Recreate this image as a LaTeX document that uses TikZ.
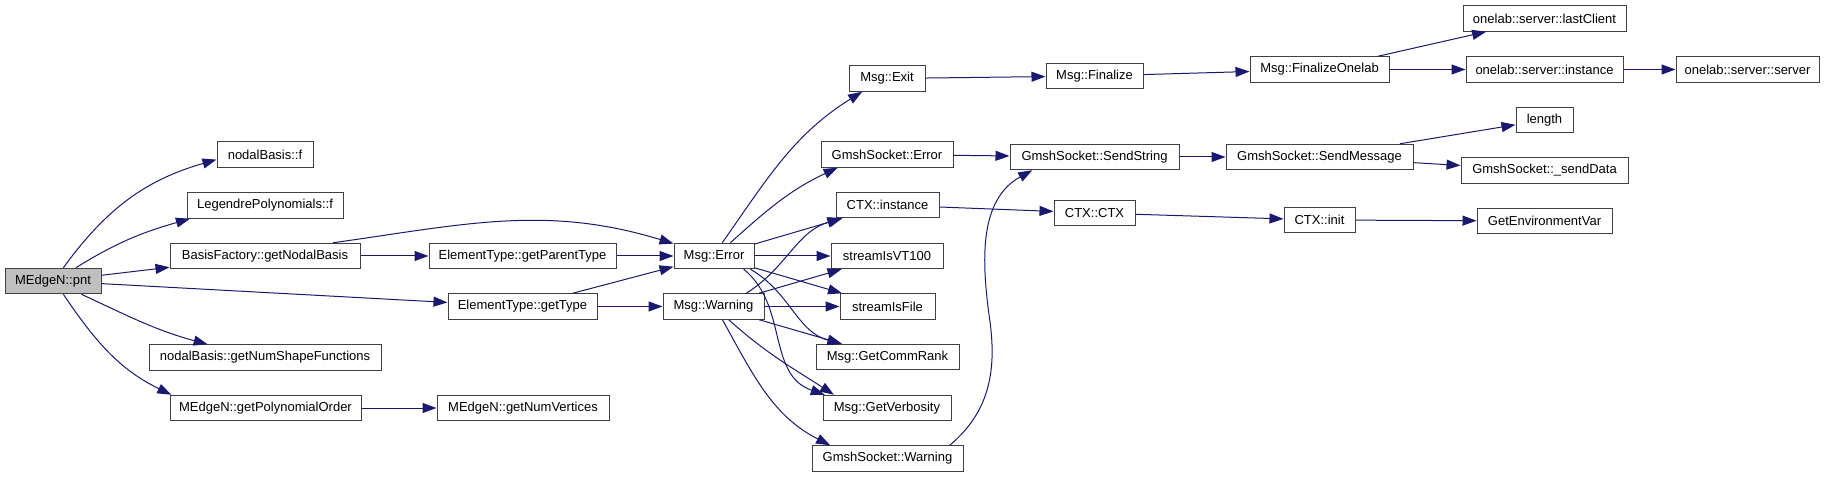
\documentclass[tikz,border=0pt]{standalone}
\usepackage{fontspec}
\setmainfont{Liberation Sans}
\usepackage{tikz}
\usetikzlibrary{arrows.meta}
\definecolor{callblue}{RGB}{25,25,112}

\begin{document}
\begin{tikzpicture}[x=0.75pt, y=0.75pt,
  fn/.style={draw=black!75, line width=0.75pt, fill=white, inner sep=1pt,
    minimum height=19.1pt, font=\fontsize{9.75}{11}\selectfont},
  call/.style={draw=callblue, line width=0.75pt,
    -{Triangle[length=10.5pt, width=7.5pt, fill=callblue]}}]

  \useasboundingbox (0,0) rectangle (1825,-477);

  % caller
  \node[fn, fill=black!25, minimum width=72pt] (pnt) at (53,-281) {MEdgeN::pnt};

  % first level
  \node[fn, minimum width=72pt]     (nbf)  at (265,-154.5) {nodalBasis::f};
  \node[fn, minimum width=117pt]    (lpf)  at (265,-205.5) {LegendrePolynomials::f};
  \node[fn, minimum width=142.5pt]  (bfnb) at (265,-256)   {BasisFactory::getNodalBasis};
  \node[fn, minimum width=174pt]    (nbsf) at (265,-357.5) {nodalBasis::getNumShapeFunctions};
  \node[fn, minimum width=143.25pt] (gpo)  at (265.5,-408) {MEdgeN::getPolynomialOrder};

  \node[fn, minimum width=140.25pt] (gpt) at (522.5,-256)   {ElementType::getParentType};
  \node[fn, minimum width=111.75pt] (gt)  at (522.5,-306.5) {ElementType::getType};
  \node[fn, minimum width=129pt]    (gnv) at (523,-408)     {MEdgeN::getNumVertices};

  \node[fn, minimum width=60pt]    (err)  at (714,-256)    {Msg::Error};
  \node[fn, minimum width=75.75pt] (warn) at (713.5,-306.5) {Msg::Warning};

  % callees of Msg::Error / Msg::Warning
  \node[fn, minimum width=57pt]     (exit)  at (887,-78.5)   {Msg::Exit};
  \node[fn, minimum width=99pt]     (gserr) at (887,-154.5)  {GmshSocket::Error};
  \node[fn, minimum width=77.25pt]  (ctxi)  at (887.5,-205)  {CTX::instance};
  \node[fn, minimum width=84pt]     (vt)    at (887,-256)    {streamIsVT100};
  \node[fn, minimum width=71.25pt]  (sif)   at (887.5,-306.5) {streamIsFile};
  \node[fn, minimum width=107.25pt] (gcr)   at (887.5,-357)  {Msg::GetCommRank};
  \node[fn, minimum width=96pt]     (gv)    at (887,-408)    {Msg::GetVerbosity};
  \node[fn, minimum width=113.25pt] (gsw)   at (887.5,-458.5) {GmshSocket::Warning};

  \node[fn, minimum width=72.75pt]  (fin)  at (1094.5,-76)  {Msg::Finalize};
  \node[fn, minimum width=126.75pt] (sstr) at (1094.5,-157) {GmshSocket::SendString};
  \node[fn, minimum width=60.75pt]  (cctx) at (1094.5,-213) {CTX::CTX};

  \node[fn, minimum width=104.25pt] (fo)    at (1319.5,-69.5) {Msg::FinalizeOnelab};
  \node[fn, minimum width=140.25pt] (smsg)  at (1319.5,-157)  {GmshSocket::SendMessage};
  \node[fn, minimum width=53.25pt]  (cinit) at (1319.5,-220)  {CTX::init};

  \node[fn, minimum width=122.25pt] (lc)  at (1544.5,-18.5)  {onelab::server::lastClient};
  \node[fn, minimum width=117.75pt] (osi) at (1544.5,-69.5)  {onelab::server::instance};
  \node[fn, minimum width=42.75pt]  (len) at (1544.5,-120)   {length};
  \node[fn, minimum width=125.25pt] (sd)  at (1544.5,-170.5) {GmshSocket::\_sendData};
  \node[fn, minimum width=101.25pt] (gev) at (1544.5,-221)   {GetEnvironmentVar};

  \node[fn, minimum width=107.25pt] (oss) at (1747.5,-69.5) {onelab::server::server};

  % calls
  \draw[call] (pnt.52) to[out=54, in=196] (nbf.186);
  \draw[call] (pnt.30) to[out=32, in=196] (lpf.190);
  \draw[call] (pnt) -- (bfnb);
  \draw[call] (pnt) -- (gt);
  \draw[call] (pnt.-25) to[out=-25, in=165] (nbsf.167);
  \draw[call] (pnt.-52) to[out=-56, in=154] (gpo.172);

  \draw[call] (bfnb) -- (gpt);
  \draw[call] (bfnb.11) to[out=8, in=163] (err.163);
  \draw[call] (gpt) -- (err);
  \draw[call] (gt) -- (err);
  \draw[call] (gt) -- (warn);
  \draw[call] (gpo) -- (gnv);

  \draw[call] (err.58) to[out=55, in=212] (exit.208);
  \draw[call] (err.39) to[out=42, in=205] (gserr.195);
  \draw[call] (err) -- (ctxi);
  \draw[call] (err) -- (vt);
  \draw[call] (err) -- (sif);
  \draw[call] (err.-20) to[out=-30, in=165] (gcr.164);
  \draw[call] (err.-24) to[out=-39, in=161, out distance=43pt, in distance=46pt] (gv.168);

  \draw[call] (warn.22) to[out=32, in=197] (ctxi.196);
  \draw[call] (warn) -- (vt);
  \draw[call] (warn) -- (sif);
  \draw[call] (warn) -- (gcr);
  \draw[call] (warn.-41) to[out=-42, in=147] (gv.166);
  \draw[call] (warn.-56) to[out=-61, in=153] (gsw.167);
  \draw[call] (gsw.12) to[out=40, in=-82] ++(40,125) to[out=98, in=209] (sstr.192);

  \draw[call] (gserr) -- (sstr);
  \draw[call] (exit) -- (fin);
  \draw[call] (ctxi) -- (cctx);
  \draw[call] (fin) -- (fo);
  \draw[call] (sstr) -- (smsg);
  \draw[call] (cctx) -- (cinit);

  \draw[call] (fo) -- (lc);
  \draw[call] (fo) -- (osi);
  \draw[call] (osi) -- (oss);
  \draw[call] (smsg) -- (len);
  \draw[call] (smsg) -- (sd);
  \draw[call] (cinit) -- (gev);

\end{tikzpicture}
\end{document}
